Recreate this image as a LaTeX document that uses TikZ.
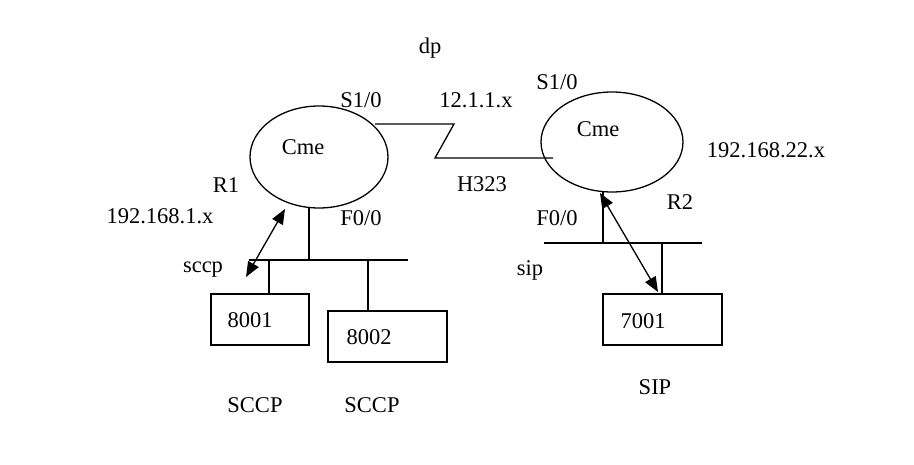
\documentclass[tikz,border=0pt]{standalone}
\usepackage{fontspec}
\setmainfont{Liberation Serif}
\usetikzlibrary{shapes.geometric,arrows.meta}
\begin{document}
\begin{tikzpicture}[x=1pt,y=-1pt,
  every node/.style={font=\fontsize{22.5}{27}\selectfont, inner sep=0pt},
  ln/.style={line width=1.3pt},
  rtr/.style={draw, ellipse, line width=1.3pt},
  phone/.style={draw, rectangle, line width=1.3pt},
  dbl/.style={line width=1.3pt, {Triangle[length=15pt,width=12pt]}-{Triangle[length=15pt,width=12pt]}}]
\useasboundingbox (0,0) rectangle (914,465);
% routers
\node[rtr, minimum width=138pt, minimum height=102pt] (r1) at (319,157) {};
\node[rtr, minimum width=142pt, minimum height=100pt] (r2) at (612,142) {};
\node (cme1) at (303,147) {Cme};
\node (cme2) at (598,129) {Cme};
% serial link
\coordinate (s1) at (375,124);
\coordinate (s2) at (454,124);
\coordinate (s3) at (435,158);
\coordinate (s4) at (553,158);
\draw[ln] (s1) -- (s2) -- (s3) -- (s4);
% left LAN
\coordinate (r1f) at (309,208);
\coordinate (r1b) at (309,260);
\coordinate (busL1) at (249,260);
\coordinate (busL2) at (408,260);
\draw[ln] (busL1) -- (busL2);
\draw[ln] (r1f) -- (r1b);
\node[phone, minimum width=98pt, minimum height=51pt] (p8001) at (260,319.5) {};
\node[phone, minimum width=119pt, minimum height=51pt] (p8002) at (387.5,336.5) {};
\coordinate (t1) at (269,260);
\coordinate (t2) at (368,260);
\draw[ln] (t1) -- (t1 |- p8001.north);
\draw[ln] (t2) -- (t2 |- p8002.north);
\node (n8001) at (250,320) {8001};
\node (n8002) at (369,337) {8002};
\coordinate (aL1) at (285,209);
\coordinate (aL2) at (246,277);
\draw[dbl] (aL1) -- (aL2);
% right LAN
\coordinate (r2f) at (603,192);
\coordinate (r2b) at (603,243);
\coordinate (busR1) at (544,243);
\coordinate (busR2) at (702,243);
\draw[ln] (busR1) -- (busR2);
\draw[ln] (r2f) -- (r2b);
\node[phone, minimum width=119pt, minimum height=51pt] (p7001) at (662.5,319.5) {};
\coordinate (t3) at (662,243);
\draw[ln] (t3) -- (t3 |- p7001.north);
\node (n7001) at (643,321) {7001};
\coordinate (aR1) at (600,193);
\coordinate (aR2) at (658,292);
\draw[dbl] (aR1) -- (aR2);
% labels
\node (dp) at (430,48) {dp};
\node (s10a) at (361,100) {S1/0};
\node (ip12) at (476,100) {12.1.1.x};
\node (h323) at (482,184) {H323};
\node (s10b) at (557,82) {S1/0};
\node (ip22) at (766,150) {192.168.22.x};
\node (lr1) at (226,185) {R1};
\node (ip1) at (160,216) {192.168.1.x};
\node (f0a) at (361,218) {F0/0};
\node (sccp) at (203,270) {sccp};
\node (f0b) at (557,218) {F0/0};
\node (lr2) at (680,202) {R2};
\node (sip) at (530,270) {sip};
\node (SCCPa) at (255,405) {SCCP};
\node (SCCPb) at (372,405) {SCCP};
\node (SIPl) at (655,387) {SIP};
\end{tikzpicture}
\end{document}
